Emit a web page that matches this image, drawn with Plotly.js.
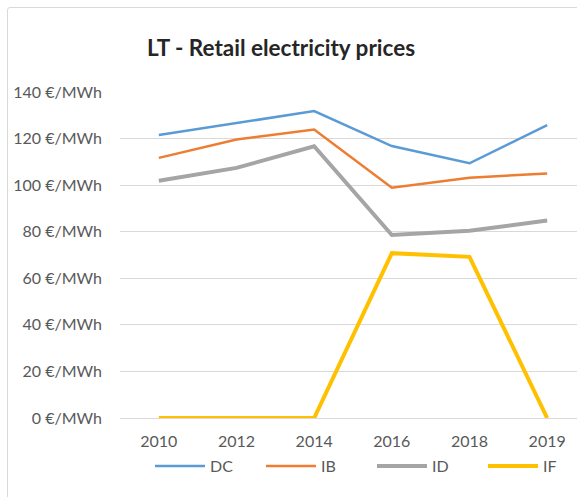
<!DOCTYPE html>
<html>
<head>
<meta charset="utf-8">
<script src="https://cdn.plot.ly/plotly-3.0.1.min.js"></script>
<style>
html,body{margin:0;padding:0;overflow:hidden;background:#fff;width:577px;height:497px;}
#frame{position:absolute;left:7px;top:7px;width:640px;height:600px;border:1px solid #d9d9d9;border-radius:3px;pointer-events:none;}
#chart{position:absolute;left:0;top:0;}
</style>
</head>
<body>
<div id="chart"></div>
<div id="frame"></div>
<script>
const years = ["2010", "2012", "2014", "2016", "2018", "2019"];
const seriesNames = ["DC", "IB", "ID", "IF"];
const dcValues = [121.5, 126.8, 131.8, 116.8, 109.4, 125.8];
const ibValues = [111.7, 119.6, 123.9, 98.9, 103.2, 105.0];
const idValues = [101.9, 107.4, 116.7, 78.6, 80.4, 84.8];
const ifValues = [0, 0, 0, 70.8, 69.2, 0];
const yTicks = [0, 20, 40, 60, 80, 100, 120, 140];

const colors = ["#5B9BD5", "#ED7D31", "#A5A5A5", "#FFC000"];
const widths = [2.5, 2.5, 4, 4];
const allValues = [dcValues, ibValues, idValues, ifValues];

const traces = allValues.map((vals, i) => ({
  type: "scatter",
  mode: "lines",
  name: seriesNames[i],
  x: years,
  y: vals,
  line: {color: colors[i], width: widths[i]},
  hoverinfo: "skip"
}));

const layout = {
  width: 640,
  height: 497,
  margin: {l: 120, r: 54, t: 92, b: 79},
  paper_bgcolor: "rgba(0,0,0,0)",
  plot_bgcolor: "#fff",
  font: {family: "Lato, 'Open Sans', sans-serif", size: 16, color: "#595959"},
  title: {
    text: "<b>LT - Retail electricity prices</b>",
    font: {family: "Lato, 'Open Sans', sans-serif", size: 22.5, color: "#262626"},
    xref: "container", yref: "container",
    x: 281 / 640, xanchor: "center",
    y: 1 - 48 / 497, yanchor: "middle"
  },
  xaxis: {
    type: "category",
    range: [-0.5, 5.5],
    showgrid: false,
    zeroline: false,
    showline: false,
    ticks: "",
    ticklabelstandoff: 12,
    tickfont: {size: 16, color: "#595959"}
  },
  yaxis: {
    range: [0, 140],
    tickvals: yTicks,
    ticktext: yTicks.map(v => v + " €/MWh"),
    showgrid: true,
    gridcolor: "#d9d9d9",
    gridwidth: 1,
    zeroline: true,
    zerolinecolor: "#d9d9d9",
    zerolinewidth: 1,
    showline: false,
    ticks: "",
    ticklabelstandoff: 17,
    tickfont: {size: 16, color: "#595959"}
  },
  showlegend: true,
  legend: {
    orientation: "h",
    x: (150 - 120) / 466, xanchor: "left",
    y: (418 - 466) / 326, yanchor: "middle",
    font: {size: 16, color: "#595959"},
    itemwidth: 50,
    entrywidth: 46,
    entrywidthmode: "pixels",
    bgcolor: "rgba(0,0,0,0)"
  }
};

Plotly.newPlot("chart", traces, layout, {displayModeBar: false, staticPlot: true});
</script>
</body>
</html>
